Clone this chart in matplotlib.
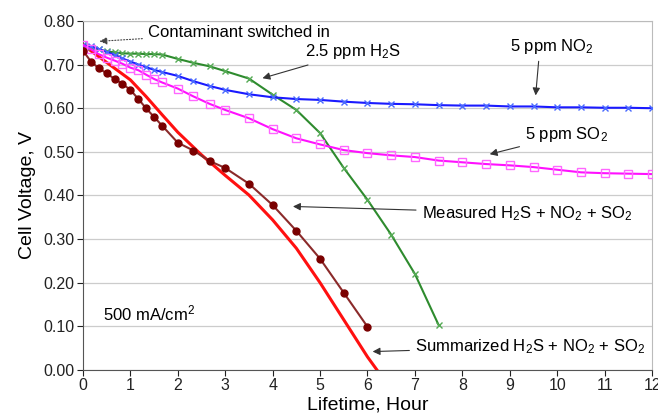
import numpy as np
import matplotlib
matplotlib.use("Agg")
import matplotlib.pyplot as plt

plt.rcParams['font.family'] = ['Liberation Sans', 'DejaVu Sans']
plt.rcParams['mathtext.fontset'] = 'custom'
plt.rcParams['mathtext.rm'] = 'Liberation Sans'
plt.rcParams['mathtext.it'] = 'Liberation Sans:italic'

# lifetime grid used by the measured curves (hours)
t_short = [0, 0.17, 0.33, 0.5, 0.67, 0.83, 1.0, 1.17, 1.33, 1.5, 1.67,
           2.0, 2.33, 2.67, 3.0, 3.5, 4.0, 4.5, 5.0, 5.5, 6.0]
t_h2s = t_short + [6.5, 7.0, 7.5]
t_long = t_short + [6.5, 7.0, 7.5, 8.0, 8.5, 9.0, 9.5, 10.0, 10.5, 11.0, 11.5, 12.0]

v_h2s = [0.745, 0.740, 0.735, 0.730, 0.728, 0.726, 0.725, 0.725, 0.724, 0.724, 0.723,
         0.713, 0.704, 0.696, 0.685, 0.668, 0.631, 0.596, 0.543, 0.463, 0.390,
         0.310, 0.220, 0.103]
v_no2 = [0.745, 0.742, 0.736, 0.729, 0.722, 0.714, 0.707, 0.700, 0.694, 0.688, 0.683,
         0.674, 0.662, 0.651, 0.642, 0.632, 0.625, 0.621, 0.619, 0.615, 0.612,
         0.610, 0.609, 0.607, 0.606, 0.606, 0.604, 0.604, 0.602, 0.602, 0.601, 0.601, 0.600]
v_so2 = [0.745, 0.735, 0.724, 0.716, 0.709, 0.702, 0.693, 0.687, 0.677, 0.667, 0.659,
         0.645, 0.627, 0.610, 0.596, 0.577, 0.552, 0.531, 0.517, 0.504, 0.497,
         0.492, 0.488, 0.480, 0.476, 0.472, 0.469, 0.465, 0.459, 0.453, 0.451, 0.450, 0.449]
v_meas = [0.732, 0.707, 0.692, 0.680, 0.667, 0.656, 0.642, 0.621, 0.600, 0.580, 0.560,
          0.521, 0.503, 0.479, 0.463, 0.427, 0.378, 0.319, 0.255, 0.177, 0.099]

t_sum = [0, 0.5, 1.0, 1.33, 1.67, 2.0, 2.5, 3.0, 3.5, 4.0, 4.5, 5.0, 5.5, 6.0, 6.2]
v_sum = [0.745, 0.705, 0.665, 0.627, 0.585, 0.545, 0.493, 0.446, 0.401, 0.344,
         0.279, 0.200, 0.115, 0.030, 0.0]

fig = plt.figure(figsize=(6.58, 4.19), dpi=100)
ax = fig.add_axes([0.126, 0.117, 0.865, 0.833])

ax.plot(t_sum, v_sum, color='#ff1010', lw=2.2, zorder=3)
ax.plot(t_short, v_meas, color='#8b2a2a', lw=1.5, marker='o', ms=5,
        mfc='#7a0000', mec='#7a0000', zorder=4)
ax.plot(t_h2s, v_h2s, color='#2e8b2e', lw=1.5, marker='x', ms=5, mew=1,
        mec='#55aa55', zorder=3)
ax.plot(t_long, v_no2, color='#1a1aff', lw=1.5, marker='x', ms=5, mew=1,
        mec='#4a6aff', zorder=3)
ax.plot(t_long, v_so2, color='#ff10ff', lw=1.5, marker='s', ms=5.5, mew=1,
        mfc='none', mec='#ff66ff', zorder=3)

ax.set_xlim(0, 12)
ax.set_ylim(0, 0.8)
ax.set_xticks(range(0, 13))
ax.set_yticks(np.arange(0, 0.81, 0.1))
ax.set_yticklabels([f"{v:.2f}" for v in np.arange(0, 0.81, 0.1)])
ax.yaxis.grid(True, color='#cccccc', lw=0.9)
ax.set_axisbelow(True)
ax.tick_params(direction='out', length=4, labelsize=11.5, colors='#222222', pad=2)
for s in ['left', 'bottom']:
    ax.spines[s].set_color('#555555')
for s in ['top', 'right']:
    ax.spines[s].set_color('#bbbbbb')

ax.set_xlabel("Lifetime, Hour", fontsize=14, labelpad=2)
ax.set_ylabel("Cell Voltage, V", fontsize=14, labelpad=5)

fs = 12
arr = dict(arrowstyle='-|>', color='#333333', lw=0.8, mutation_scale=11)
ax.annotate("Contaminant switched in", xy=(0.29, 0.753), xytext=(1.37, 0.773),
            fontsize=fs, va='center',
            arrowprops=dict(arrowstyle='-|>', color='#444444', lw=0.8,
                            ls=':', mutation_scale=11))
ax.annotate("2.5 ppm H$_2$S", xy=(3.73, 0.667), xytext=(4.68, 0.729),
            fontsize=fs, va='center', arrowprops=arr)
ax.annotate("5 ppm NO$_2$", xy=(9.54, 0.623), xytext=(9.0, 0.742),
            fontsize=fs, va='center', arrowprops=dict(arr, relpos=(0.35, 0)))
ax.annotate("5 ppm SO$_2$", xy=(8.52, 0.493), xytext=(9.32, 0.539),
            fontsize=fs, va='center', arrowprops=arr)
ax.annotate("Measured H$_2$S + NO$_2$ + SO$_2$", xy=(4.37, 0.375), xytext=(7.14, 0.359),
            fontsize=fs, va='center', arrowprops=arr)
ax.annotate("Summarized H$_2$S + NO$_2$ + SO$_2$", xy=(6.05, 0.042), xytext=(7.0, 0.053),
            fontsize=fs, va='center', arrowprops=arr)
ax.text(0.43, 0.13, "500 mA/cm$^2$", fontsize=fs, va='center')

fig.savefig("out.png", dpi=100)
